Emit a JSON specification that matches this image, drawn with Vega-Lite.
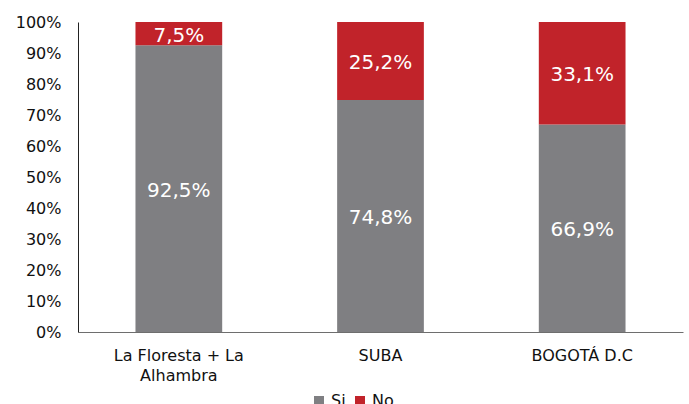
{
  "$schema": "https://vega.github.io/schema/vega-lite/v6.json",
  "width": 605,
  "height": 310,
  "autosize": {"type": "none"},
  "padding": {"left": 78, "top": 22, "right": 6, "bottom": 72},
  "background": "white",
  "config": {
    "view": {"stroke": null},
    "font": "DejaVu Sans"
  },
  "data": {
    "values": [
      {"zona": "La Floresta + La Alhambra", "resp": "Si", "orden": 1, "valor": 0.925, "label": "92,5%"},
      {"zona": "La Floresta + La Alhambra", "resp": "No", "orden": 2, "valor": 0.075, "label": "7,5%"},
      {"zona": "SUBA", "resp": "Si", "orden": 1, "valor": 0.748, "label": "74,8%"},
      {"zona": "SUBA", "resp": "No", "orden": 2, "valor": 0.252, "label": "25,2%"},
      {"zona": "BOGOTÁ D.C", "resp": "Si", "orden": 1, "valor": 0.669, "label": "66,9%"},
      {"zona": "BOGOTÁ D.C", "resp": "No", "orden": 2, "valor": 0.331, "label": "33,1%"}
    ]
  },
  "encoding": {
    "x": {
      "field": "zona",
      "type": "nominal",
      "sort": ["La Floresta + La Alhambra", "SUBA", "BOGOTÁ D.C"],
      "scale": {"paddingInner": 0.57, "paddingOuter": 0.285},
      "axis": {
        "title": null,
        "labelAngle": 0,
        "ticks": false,
        "domainColor": "#6e6e6e",
        "domainWidth": 1,
        "labelFont": "DejaVu Sans",
        "labelFontSize": 16,
        "labelColor": "#111111",
        "labelPadding": 15,
        "labelLineHeight": 20,
        "labelExpr": "datum.value == 'La Floresta + La Alhambra' ? ['La Floresta + La', 'Alhambra'] : datum.label"
      }
    },
    "y": {
      "field": "valor",
      "type": "quantitative",
      "stack": "zero",
      "scale": {"domain": [0, 1]},
      "axis": {
        "title": null,
        "format": ".0%",
        "values": [0, 0.1, 0.2, 0.3, 0.4, 0.5, 0.6, 0.7, 0.8, 0.9, 1],
        "labelOverlap": false,
        "grid": false,
        "ticks": false,
        "domainColor": "#222222",
        "labelFont": "DejaVu Sans",
        "labelFontSize": 16,
        "labelColor": "#111111",
        "labelPadding": 17
      }
    },
    "order": {"field": "orden", "type": "quantitative"}
  },
  "layer": [
    {
      "mark": {"type": "bar"},
      "encoding": {
        "color": {
          "field": "resp",
          "type": "nominal",
          "sort": ["Si", "No"],
          "scale": {"domain": ["Si", "No"], "range": ["#7f7f82", "#c1232a"]},
          "legend": {
            "title": null,
            "orient": "none",
            "legendX": 233,
            "legendY": 371,
            "direction": "horizontal",
            "symbolType": "square",
            "symbolSize": 100,
            "symbolStrokeWidth": 0,
            "labelFont": "DejaVu Sans",
            "labelFontSize": 16,
            "labelColor": "#111111",
            "columnPadding": 6,
            "labelOffset": 4
          }
        }
      }
    },
    {
      "mark": {"type": "text", "color": "white", "fontSize": 20, "font": "DejaVu Sans", "dy": 2},
      "encoding": {
        "y": {"field": "valor", "type": "quantitative", "stack": "zero", "bandPosition": 0.5},
        "text": {"field": "label"}
      }
    }
  ]
}
